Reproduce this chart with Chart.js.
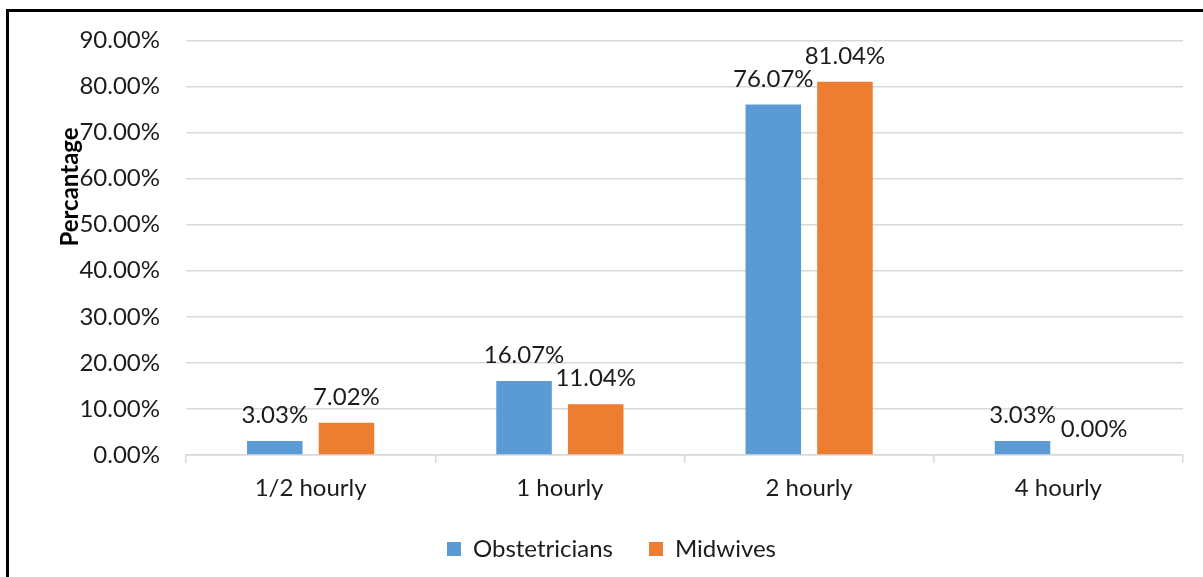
<!DOCTYPE html>
<html>
<head>
<meta charset="utf-8">
<script src="https://cdn.jsdelivr.net/npm/chart.js@4/dist/chart.umd.min.js"></script>
<style>
  html, body { margin: 0; padding: 0; background: #fff; }
  #wrap { position: relative; width: 1203px; height: 577px; overflow: hidden; }
  #frame { position: absolute; left: 6px; top: 9px; width: 1300px; height: 700px;
           border-top: 3px solid #000; border-left: 3px solid #000; pointer-events: none; }
  canvas { position: absolute; left: 0; top: 0; }
</style>
</head>
<body>
<div id="wrap">
  <canvas id="myChart" width="1203" height="577"></canvas>
  <div id="frame"></div>
</div>
<script>
// chart data
var categories = ['1/2 hourly', '1 hourly', '2 hourly', '4 hourly'];
var obstetricians = [3.03, 16.07, 76.07, 3.03];
var midwives = [7.02, 11.04, 81.04, 0.00];
var yTicks = [0, 10, 20, 30, 40, 50, 60, 70, 80, 90];

var FONT = 'Lato';
var TEXT = '#1c1c1c';

// value labels on top of each bar
var barLabels = {
  id: 'barLabels',
  afterDatasetsDraw(chart) {
    const ctx = chart.ctx;
    ctx.save();
    ctx.font = '24px ' + FONT;
    ctx.fillStyle = TEXT;
    ctx.textAlign = 'center';
    ctx.textBaseline = 'alphabetic';
    chart.data.datasets.forEach((ds, i) => {
      chart.getDatasetMeta(i).data.forEach((bar, j) => {
        ctx.fillText(ds.data[j].toFixed(2) + '%', bar.x, bar.y - 18);
      });
    });
    ctx.restore();
  }
};

// rotated y axis title, sits over the tick labels like the original
var yTitle = {
  id: 'yTitle',
  afterDraw(chart) {
    const ctx = chart.ctx;
    ctx.save();
    ctx.translate(70, 187);
    ctx.rotate(-Math.PI / 2);
    ctx.font = 'bold 24px ' + FONT;
    ctx.fillStyle = '#000';
    ctx.textAlign = 'center';
    ctx.textBaseline = 'middle';
    ctx.fillText('Percantage', 0, 0);
    ctx.restore();
  }
};

var ctx = document.getElementById('myChart').getContext('2d');
var myChart = new Chart(ctx, {
  type: 'bar',
  data: {
    labels: categories,
    datasets: [
      { label: 'Obstetricians', data: obstetricians, backgroundColor: '#5B9BD5',
        categoryPercentage: 0.575, barPercentage: 0.775 },
      { label: 'Midwives', data: midwives, backgroundColor: '#ED7D31',
        categoryPercentage: 0.575, barPercentage: 0.775 }
    ]
  },
  options: {
    responsive: false,
    animation: false,
    layout: { padding: { top: 28, right: 20, bottom: 6, left: 40 } },
    plugins: {
      tooltip: { enabled: false },
      legend: {
        position: 'bottom',
        labels: {
          font: { family: FONT, size: 24 },
          color: TEXT,
          boxWidth: 14,
          boxHeight: 14,
          padding: 36
        }
      }
    },
    scales: {
      x: {
        grid: { display: true, drawOnChartArea: false, offset: true, color: '#d9d9d9', tickLength: 8, lineWidth: 1.5 },
        border: { color: '#d9d9d9', width: 1.5 },
        ticks: { font: { family: FONT, size: 24 }, color: TEXT, padding: 11 },
        afterFit(scale) { scale.height = 46; }
      },
      y: {
        min: 0,
        max: 90,
        afterBuildTicks(scale) { scale.ticks = yTicks.map(v => ({ value: v })); },
        grid: { color: '#d9d9d9', lineWidth: 1.5, drawTicks: false },
        border: { display: false },
        ticks: {
          font: { family: FONT, size: 24 },
          color: TEXT,
          padding: 26,
          callback: v => v.toFixed(2) + '%'
        },
        afterFit(scale) { scale.width = 146; }
      }
    }
  },
  plugins: [barLabels, yTitle]
});
</script>
</body>
</html>
